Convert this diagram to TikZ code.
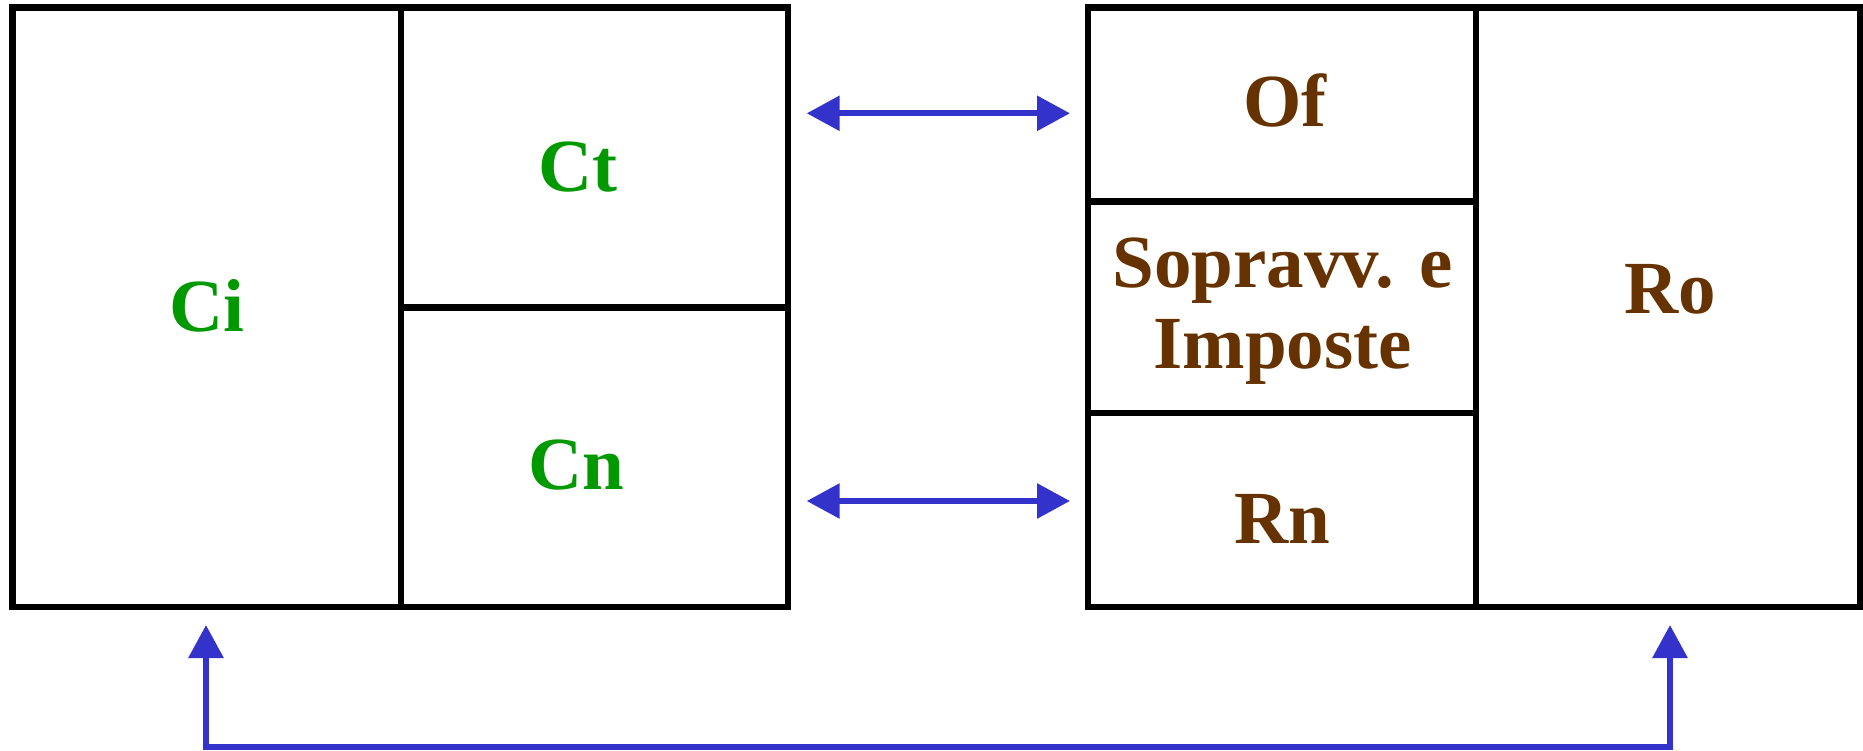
\documentclass[tikz,border=0pt]{standalone}
\usepackage{fontspec}
\setmainfont{Liberation Serif}
\usetikzlibrary{arrows.meta}
\definecolor{cgreen}{RGB}{0,153,0}
\definecolor{cbrown}{RGB}{102,51,0}
\definecolor{cblue}{RGB}{51,51,204}
\tikzset{
  box/.style={draw=black, line width=6.5pt, inner sep=0pt, outer sep=0pt, anchor=center},
  lbl/.style={font=\bfseries\fontsize{75}{81}\selectfont, inner sep=0pt, anchor=base, align=center},
  gtxt/.style={lbl, text=cgreen},
  btxt/.style={lbl, text=cbrown},
  arr/.style={draw=cblue, line width=6pt, {Triangle[length=33pt,width=34pt]}-{Triangle[length=33pt,width=34pt]}},
  arrend/.style={draw=cblue, line width=6pt, -{Triangle[length=33pt,width=34pt]}}
}
\begin{document}
\begin{tikzpicture}[x=1pt,y=-1pt]
\useasboundingbox (0,0) rectangle (1863,750);
% left block
\node[box, minimum width=388.7pt, minimum height=599.3pt] (ci) at (206.7,307.3) {};
\node[box, minimum width=387pt, minimum height=300pt] (ct) at (594.5,157.7) {};
\node[box, minimum width=387pt, minimum height=299.3pt] (cn) at (594.5,457.3) {};
% right block
\node[box, minimum width=388pt, minimum height=194pt] (of) at (1282,104.7) {};
\node[box, minimum width=388pt, minimum height=211.3pt] (sp) at (1282,307.3) {};
\node[box, minimum width=388pt, minimum height=194pt] (rn) at (1282,510) {};
\node[box, minimum width=384pt, minimum height=599.3pt] (ro) at (1668,307.3) {};
% texts
\node[gtxt] (tci) at (206.7,331) {Ci};
\node[gtxt] (tct) at (578,191) {Ct};
\node[gtxt] (tcn) at (576,489) {Cn};
\node[btxt] (tof) at (1285,126) {Of};
\node[btxt] (tsp1) at (1282.5,287) {Sopravv. e};
\node[btxt] (tsp2) at (1282.5,368) {Imposte};
\node[btxt] (trn) at (1282.5,543) {Rn};
\node[btxt] (tro) at (1670,313) {Ro};
% arrows
\coordinate (a1l) at (806.7,113.3);
\coordinate (a1r) at (1070,113.3);
\coordinate (a2l) at (806.7,501);
\coordinate (a2r) at (1070,501);
\draw[arr] (a1l) -- (a1r);
\draw[arr] (a2l) -- (a2r);
\coordinate (bl) at (206,747);
\coordinate (br) at (1670,747);
\coordinate (tl) at (206,625);
\coordinate (tr) at (1670,625);
\draw[arrend] (br) -- (bl) -- (tl);
\draw[arrend] (bl) -- (br) -- (tr);
\end{tikzpicture}
\end{document}
